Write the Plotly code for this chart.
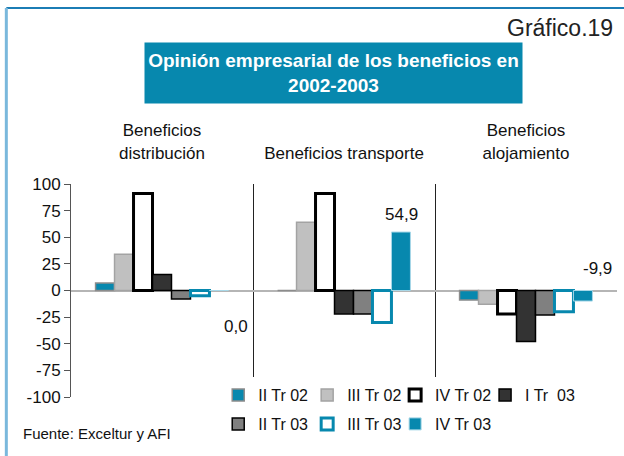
import plotly.graph_objects as go

categories = ["Beneficios<br>distribución", "Beneficios transporte", "Beneficios<br>alojamiento"]
series_names = ["II Tr 02", "III Tr 02", "IV Tr 02", "I Tr  03", "II Tr 03", "III Tr 03", "IV Tr 03"]
ii_tr_02 = [7, 0, -9]
iii_tr_02 = [34, 64, -13]
iv_tr_02 = [91, 91, -22]
i_tr_03 = [15, -22, -48]
ii_tr_03 = [-8, -22, -23]
iii_tr_03 = [-5, -30, -20]
iv_tr_03 = [0.0, 54.9, -9.9]
y_ticks = [100, 75, 50, 25, 0, -25, -50, -75, -100]

TEAL = "#0788AE"
styles = [
    dict(color=TEAL, line=dict(color="#8c8c8c", width=1.5)),
    dict(color="#c0c0c0", line=dict(color="#a3a3a3", width=1.5)),
    dict(color="#ffffff", line=dict(color="#000000", width=3)),
    dict(color="#333333", line=dict(color="#000000", width=1.5)),
    dict(color="#808080", line=dict(color="#000000", width=1.5)),
    dict(color="#ffffff", line=dict(color=TEAL, width=3)),
    dict(color=TEAL, line=dict(color="#a8d8e8", width=1)),
]
values = [ii_tr_02, iii_tr_02, iv_tr_02, i_tr_03, ii_tr_03, iii_tr_03, iv_tr_03]

FONT = "Liberation Sans, Arial, Helvetica, sans-serif"
PL, PR, PT, PB = 70.7, 617.0, 184.0, 397.0
PW, PH = PR - PL, PB - PT


def px(x):
    return (x - PL) / PW


def py(y):
    return (PB - y) / PH


# legend entry positions (pixel x of symbol, row top)
legend_pos = [(238, 378), (327, 378), (415, 378), (505, 378), (238, 407), (327, 407), (415, 407)]

fig = go.Figure()
legend_layout = {}
for i, (name, vals, st) in enumerate(zip(series_names, values, styles)):
    key = "legend" if i == 0 else f"legend{i + 1}"
    fig.add_trace(go.Bar(x=categories, y=vals, name=name, marker=st, legend=key))
    lx, ly = legend_pos[i]
    legend_layout[key] = dict(orientation="h", x=px(lx - 20), y=py(ly), xanchor="left", yanchor="top",
                              bgcolor="rgba(255,255,255,0)", font=dict(size=16), itemwidth=30)


def fmt(v):
    return f"{v:.1f}".replace(".", ",")


# white area behind legend (covers the separator lines like the reference)
fig.add_shape(type="rect", xref="paper", yref="paper", x0=px(225), x1=px(605), y0=py(377), y1=py(440),
              fillcolor="white", line=dict(width=0), layer="above")

# data labels for the last series
label_shifts = [(74, -36), (57, 18), (71, 33)]
for cat, v, (dx, dy) in zip(categories, iv_tr_03, label_shifts):
    fig.add_annotation(x=cat, y=v, xref="x", yref="y", text=fmt(v), showarrow=False,
                       xshift=dx, yshift=dy, font=dict(size=17, color="#111111", family=FONT))

# title box
fig.add_annotation(xref="paper", yref="paper", x=px(333.5), y=py(73),
                   text="<b>Opinión empresarial de los beneficios en<br>2002-2003</b>",
                   showarrow=False, bgcolor=TEAL, width=377, height=60, borderpad=0,
                   font=dict(size=19, color="white", family=FONT), xanchor="center", yanchor="middle")
fig.add_annotation(xref="paper", yref="paper", x=px(615), y=py(28),
                   text="Gráfico.19", showarrow=False, xanchor="right", yanchor="middle",
                   font=dict(size=23, color="#222222", family=FONT))
fig.add_annotation(xref="paper", yref="paper", x=px(21), y=py(433),
                   text="Fuente: Exceltur y AFI", showarrow=False, xanchor="left", yanchor="middle",
                   font=dict(size=15, color="#111111", family=FONT))

# outer frame (top and left)
fig.add_shape(type="line", xref="paper", yref="paper",
              x0=px(6), x1=px(624), y0=py(8), y1=py(8),
              line=dict(color="#1b7db5", width=2))
fig.add_shape(type="line", xref="paper", yref="paper",
              x0=px(6), x1=px(6), y0=py(8), y1=py(460),
              line=dict(color="#7ab8dc", width=3))

fig.update_layout(
    width=624, height=456,
    margin=dict(l=PL, r=624 - PR, t=PT, b=456 - PB, autoexpand=False),
    paper_bgcolor="white", plot_bgcolor="white",
    barmode="group", bargap=0.27, bargroupgap=0,
    font=dict(family=FONT, size=16, color="#111111"),
    xaxis=dict(side="top", showgrid=True, gridcolor="#222222", gridwidth=1, tickson="boundaries",
               ticks="", showline=False, zeroline=False, tickfont=dict(size=17),
               ticklabelstandoff=21, automargin=False),
    yaxis=dict(range=[-100, 100], tickvals=y_ticks, ticktext=[str(t) for t in y_ticks],
               showgrid=False, zeroline=True,
               zerolinecolor="#b5b5b5", zerolinewidth=1.5, showline=True, linecolor="#555555",
               ticks="outside", ticklen=6, tickcolor="#555555", tickfont=dict(size=17),
               automargin=False),
    showlegend=True,
    **legend_layout,
)

fig.write_html("out.html", config={"displayModeBar": False},
               post_script="document.body.style.margin='0';document.body.style.padding='0';")
